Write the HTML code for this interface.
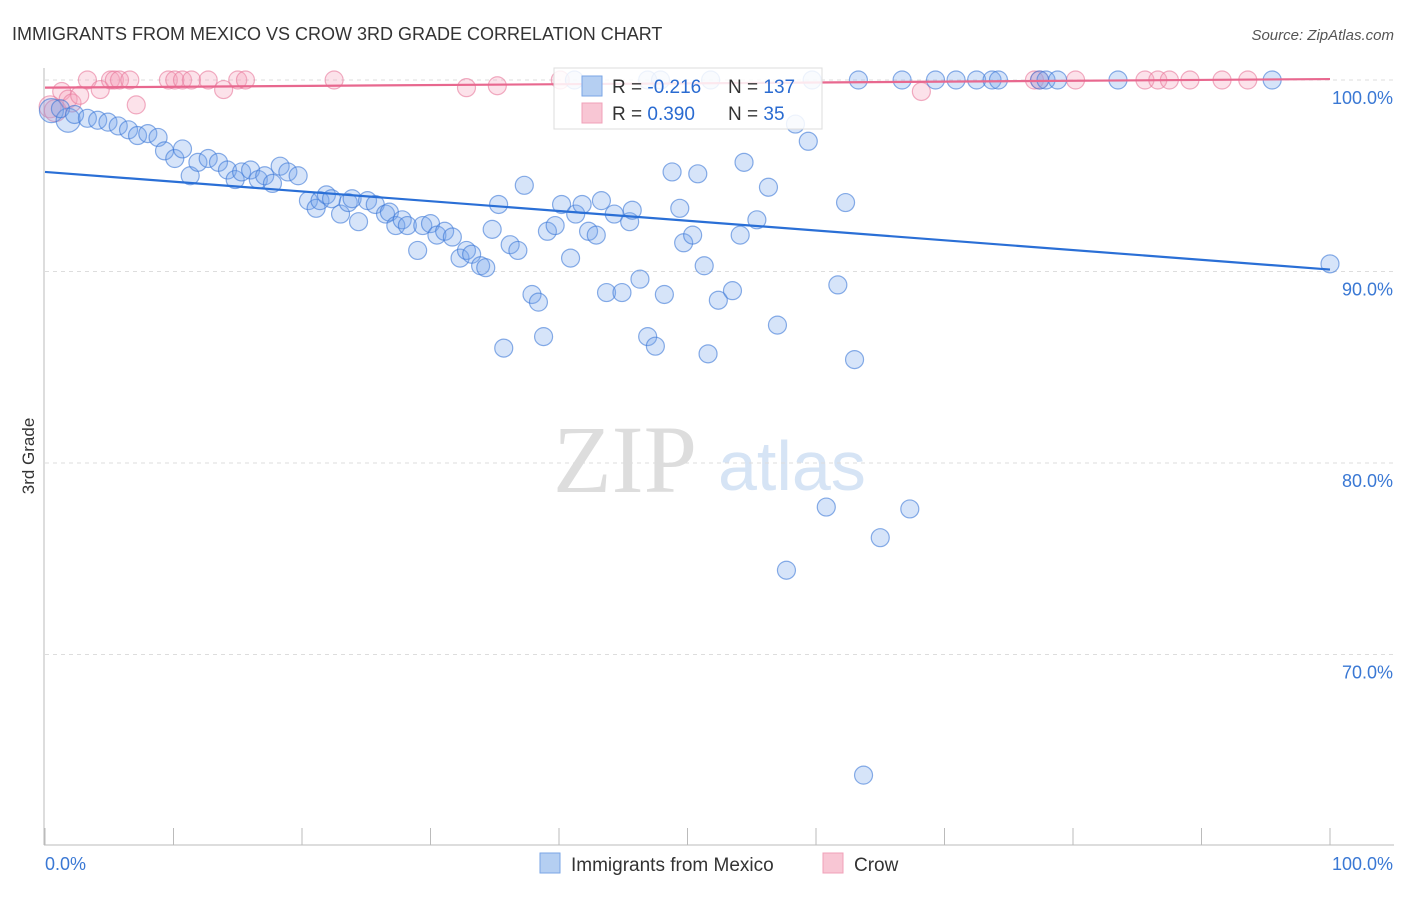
<!DOCTYPE html>
<html><head><meta charset="utf-8"><style>
body{margin:0;background:#fff;font-family:"Liberation Sans",sans-serif}
svg text{font-family:"Liberation Sans",sans-serif}
</style></head><body>
<svg width="1406" height="892">
<text x="12" y="40" font-size="18" fill="#333">IMMIGRANTS FROM MEXICO VS CROW 3RD GRADE CORRELATION CHART</text>
<text x="1394" y="40" font-size="15" fill="#555" font-style="italic" text-anchor="end">Source: ZipAtlas.com</text>
<text x="34" y="456" font-size="17" fill="#333" transform="rotate(-90 34 456)" text-anchor="middle">3rd Grade</text>
<g>
<text x="553" y="492" font-size="96" fill="#ddd" font-family="Liberation Serif" style="font-family:'Liberation Serif',serif">ZIP</text>
<text x="718" y="490" font-size="70" fill="#d6e4f5">atlas</text>
</g>
<g id="grid"></g>
<g id="axes"></g>
<g id="marks"></g>
<g>
<rect x="554" y="68" width="268" height="61" fill="#fff" fill-opacity="0.85" stroke="#ddd"/>
<rect x="582" y="76" width="20" height="20" fill="#b5cff2" stroke="#7aa6e6"/>
<rect x="582" y="103" width="20" height="20" fill="#f8c6d4" stroke="#f0a0b8"/>
<text x="612" y="93" font-size="19" fill="#333">R = <tspan fill="#2a6bd1">-0.216</tspan></text>
<text x="728" y="93" font-size="19" fill="#333">N = <tspan fill="#2a6bd1">137</tspan></text>
<text x="612" y="120" font-size="19" fill="#333">R = <tspan fill="#2a6bd1"> 0.390</tspan></text>
<text x="728" y="120" font-size="19" fill="#333">N = <tspan fill="#2a6bd1"> 35</tspan></text>
</g>
<g>
<rect x="540" y="853" width="20" height="20" fill="#b5cff2" stroke="#7aa6e6"/>
<text x="571" y="871" font-size="19" fill="#333">Immigrants from Mexico</text>
<rect x="823" y="853" width="20" height="20" fill="#f8c6d4" stroke="#f0a0b8"/>
<text x="854" y="871" font-size="19" fill="#333">Crow</text>
</g>
</svg>
<script>
const yTicks=[100,90,80,70];
const yTickLabels=["100.0%","90.0%","80.0%","70.0%"];
const xTicks=[0,10,20,30,40,50,60,70,80,90,100];
const xLabels=["0.0%","100.0%"];
const blueX=[0.5,1.8,1.2,2.3,3.3,4.1,4.9,5.7,6.5,7.2,8.0,8.8,9.3,10.1,10.7,11.3,11.9,12.7,13.5,14.2,14.8,15.3,16.0,16.6,17.1,17.7,18.3,18.9,19.7,20.5,21.1,21.4,21.9,22.3,23.0,23.6,23.9,24.4,25.1,25.7,26.5,26.8,27.3,27.8,28.2,29.0,29.4,30.0,30.5,31.1,31.7,32.3,32.8,33.2,33.9,34.3,34.8,35.3,35.7,36.2,36.8,37.3,37.9,38.4,38.8,39.1,39.7,40.2,40.9,41.3,41.8,42.3,42.9,43.3,43.7,44.3,44.9,45.5,45.7,46.3,46.9,47.5,48.2,48.8,49.4,49.7,50.4,50.8,51.3,51.6,52.4,53.5,54.1,54.4,55.4,56.3,57.0,57.7,58.4,59.4,60.8,61.7,62.3,63.0,63.7,65.0,67.3,100,41.2,46.9,51.8,47.9,59.7,63.3,66.7,69.3,70.9,72.5,73.7,74.2,77.4,77.9,78.8,83.5,95.5];
const blueY=[98.4,97.9,98.5,98.2,98.0,97.9,97.8,97.6,97.4,97.1,97.2,97.0,96.3,95.9,96.4,95.0,95.7,95.9,95.7,95.3,94.8,95.2,95.3,94.8,95.0,94.6,95.5,95.2,95.0,93.7,93.3,93.7,94.0,93.8,93.0,93.6,93.8,92.6,93.7,93.5,93.0,93.1,92.4,92.7,92.4,91.1,92.4,92.5,91.9,92.1,91.8,90.7,91.1,90.9,90.3,90.2,92.2,93.5,86.0,91.4,91.1,94.5,88.8,88.4,86.6,92.1,92.4,93.5,90.7,93.0,93.5,92.1,91.9,93.7,88.9,93.0,88.9,92.6,93.2,89.6,86.6,86.1,88.8,95.2,93.3,91.5,91.9,95.1,90.3,85.7,88.5,89.0,91.9,95.7,92.7,94.4,87.2,74.4,97.7,96.8,77.7,89.3,93.6,85.4,63.7,76.1,77.6,90.4,100,100,100,100,100,100,100,100,100,100,100,100,100,100,100,100,100];
const pinkX=[0.4,0.8,1.3,1.8,2.1,2.7,3.3,4.3,5.1,5.4,5.8,6.6,7.1,9.6,10.1,10.7,11.4,12.7,13.9,15.0,15.6,22.5,32.8,35.2,40.1,68.2,77.0,80.2,85.6,86.6,87.5,89.1,91.6,93.6,77.4];
const pinkY=[98.6,98.4,99.4,99.0,98.8,99.2,100,99.5,100,100,100,100,98.7,100,100,100,100,100,99.5,100,100,100,99.6,99.7,100,99.4,100,100,100,100,100,100,100,100,100];
const blueTrend=[95.2,90.1];
const pinkTrend=[99.6,100.05];
const NS="http://www.w3.org/2000/svg";
const X=v=>45+v*12.85, Y=v=>80+(100-v)*19.15;
function mk(t,a,p){const e=document.createElementNS(NS,t);for(const k in a)e.setAttribute(k,a[k]);p.appendChild(e);return e;}
const grid=document.getElementById('grid'),axes=document.getElementById('axes'),marks=document.getElementById('marks');
yTicks.forEach((t,i)=>{
 const l=mk('line',{x1:45,x2:1394,y1:Y(t),y2:Y(t),stroke:'#ddd','stroke-dasharray':'4,4'},grid);
 
 
 const tx=mk('text',{x:1393,y:Y(t)+24,'font-size':18,fill:'#3a78d4','text-anchor':'end'},axes);
 tx.textContent=yTickLabels[i];
 
 
});
const al=mk('line',{x1:44,x2:44,y1:68,y2:845,stroke:'#bbb'},axes);


const bl=mk('line',{x1:44,x2:1394,y1:845,y2:845,stroke:'#bbb'},axes);


xTicks.forEach(t=>{
 const l=mk('line',{x1:X(t),x2:X(t),y1:828,y2:845,stroke:'#bbb'},axes);
 
 
});
const xl0=mk('text',{x:45,y:870,'font-size':18,fill:'#3a78d4'},axes);xl0.textContent=xLabels[0];


const xl1=mk('text',{x:1393,y:870,'font-size':18,fill:'#3a78d4','text-anchor':'end'},axes);xl1.textContent=xLabels[1];


pinkX.forEach((x,i)=>{
 const c=mk('circle',{cx:X(x),cy:Y(pinkY[i]),r:i<2?11:9,fill:'rgba(245,160,185,0.3)',stroke:'rgba(232,120,155,0.6)','stroke-width':1.2},marks);
 
 
});
blueX.forEach((x,i)=>{
 const c=mk('circle',{cx:X(x),cy:Y(blueY[i]),r:i<2?12:9,fill:'rgba(120,165,235,0.3)',stroke:'rgba(60,120,215,0.6)','stroke-width':1.2},marks);
 
 
});
const bt=mk('line',{x1:X(0),y1:Y(blueTrend[0]),x2:X(100),y2:Y(blueTrend[1]),stroke:'#2a6fd6','stroke-width':2.2},marks);


const pt=mk('line',{x1:X(0),y1:Y(pinkTrend[0]),x2:X(100),y2:Y(pinkTrend[1]),stroke:'#e8688f','stroke-width':2.2},marks);


</script>
</body></html>
